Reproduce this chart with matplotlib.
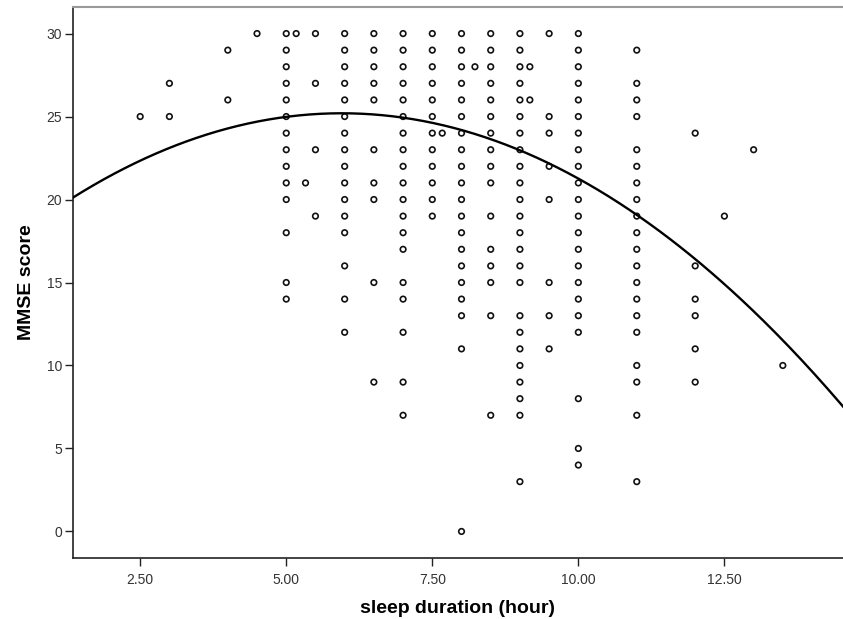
import matplotlib
matplotlib.use("Agg")
import matplotlib.pyplot as plt
import numpy as np

plt.rcParams['font.family'] = ['Liberation Sans', 'DejaVu Sans']

# MMSE scores observed at each sleep-duration value (hours)
col_2_5 = [25]
col_3_0 = [27, 25]
col_4_0 = [29, 26]
col_4_5 = [30]
col_5_0 = [30, 29, 28, 27, 26, 25, 24, 23, 22, 21, 20, 18, 15, 14]
col_5_17 = [30]
col_5_33 = [21]
col_5_5 = [30, 27, 23, 19]
col_6_0 = [30, 29, 28, 27, 26, 25, 24, 23, 22, 21, 20, 19, 18, 16, 14, 12]
col_6_5 = [30, 29, 28, 27, 26, 23, 21, 20, 15, 9]
col_7_0 = [30, 29, 28, 27, 26, 25, 24, 23, 22, 21, 20, 19, 18, 17, 15, 14, 12, 9, 7]
col_7_5 = [30, 29, 28, 27, 26, 25, 24, 23, 22, 21, 20, 19]
col_7_67 = [24]
col_8_0 = [30, 29, 28, 27, 26, 25, 24, 23, 22, 21, 20, 19, 18, 17, 16, 15, 14, 13, 11, 0]
col_8_23 = [28]
col_8_5 = [30, 29, 28, 27, 26, 25, 24, 23, 22, 21, 19, 17, 16, 15, 13, 7]
col_9_0 = [30, 29, 28, 27, 26, 25, 24, 23, 22, 21, 20, 19, 18, 17, 16, 15, 13, 12, 11, 10, 9, 8, 7, 3]
col_9_17 = [28, 26]
col_9_5 = [30, 25, 24, 22, 20, 15, 13, 11]
col_10_0 = [30, 29, 28, 27, 26, 25, 24, 23, 22, 21, 20, 19, 18, 17, 16, 15, 14, 13, 12, 8, 5, 4]
col_11_0 = [29, 27, 26, 25, 23, 22, 21, 20, 19, 18, 17, 16, 15, 14, 13, 12, 10, 9, 7, 3]
col_12_0 = [24, 16, 14, 13, 11, 9]
col_12_5 = [19]
col_13_0 = [23]
col_13_5 = [10]

columns = {
    2.5: col_2_5, 3.0: col_3_0, 4.0: col_4_0, 4.5: col_4_5, 5.0: col_5_0,
    5.17: col_5_17, 5.33: col_5_33, 5.5: col_5_5, 6.0: col_6_0, 6.5: col_6_5,
    7.0: col_7_0, 7.5: col_7_5, 7.67: col_7_67, 8.0: col_8_0, 8.23: col_8_23,
    8.5: col_8_5, 9.0: col_9_0, 9.17: col_9_17, 9.5: col_9_5, 10.0: col_10_0,
    11.0: col_11_0, 12.0: col_12_0, 12.5: col_12_5, 13.0: col_13_0, 13.5: col_13_5,
}

sleep_hours = [x for x, ys in columns.items() for _ in ys]
mmse = [y for ys in columns.values() for y in ys]

# Quadratic fit line coefficients (c0 + c1*x + c2*x^2)
fit_c0, fit_c1, fit_c2 = 16.70, 2.856, -0.240

x_ticks = [2.5, 5.0, 7.5, 10.0, 12.5]
x_tick_labels = ["2.50", "5.00", "7.50", "10.00", "12.50"]
y_ticks = [0, 5, 10, 15, 20, 25, 30]

fig = plt.figure(figsize=(8.43, 6.19), dpi=100)
ax = fig.add_axes([73 / 843, 61 / 619, 1 - 73 / 843, 551 / 619])

ax.scatter(sleep_hours, mmse, s=16, facecolors='none', edgecolors='#111111',
           linewidths=1.2, zorder=3)

xlim = (1.35, 14.53)
xs = np.linspace(xlim[0], xlim[1], 300)
ax.plot(xs, fit_c0 + fit_c1 * xs + fit_c2 * xs ** 2, color='black', lw=1.7, zorder=4)

ax.set_xlim(*xlim)
ax.set_ylim(-1.6, 31.6)
ax.set_xticks(x_ticks)
ax.set_xticklabels(x_tick_labels)
ax.set_yticks(y_ticks)

ax.tick_params(axis='both', direction='out', length=6, width=1, color='#222222',
               labelsize=10, labelcolor='#333333')
ax.tick_params(axis='x', pad=5)
ax.tick_params(axis='y', pad=2)

for side in ['left', 'bottom']:
    ax.spines[side].set_color('#222222')
    ax.spines[side].set_linewidth(1.2)
ax.spines['top'].set_color('#999999')
ax.spines['top'].set_linewidth(1.5)
ax.spines['right'].set_visible(False)

ax.set_xlabel('sleep duration (hour)', fontsize=14, fontweight='bold', labelpad=9)
ax.set_ylabel('MMSE score', fontsize=14, fontweight='bold', labelpad=8)

fig.savefig('out.png', dpi=100, facecolor='white')
